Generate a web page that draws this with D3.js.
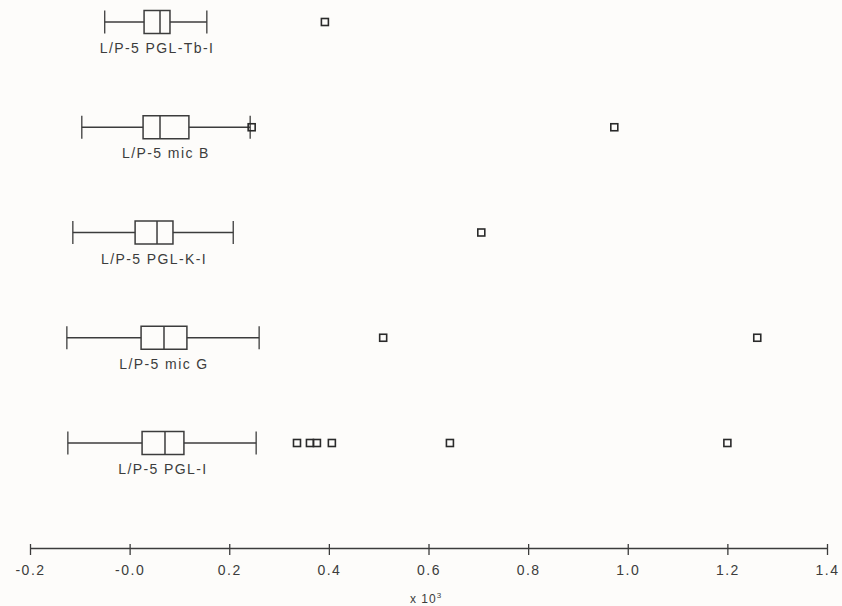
<!DOCTYPE html>
<meta charset="utf-8">
<script src="https://d3js.org/d3.v7.min.js"></script>
<style>
  body { margin: 0; background: #fdfcfa; }
  text { font-family: "Liberation Sans", Arial, sans-serif; fill: #3c3c3c; }
</style>
<div id="chart"></div>
<script>

// box plot statistics, values in units of 10^3
var groups = ["L/P-5 PGL-Tb-I", "L/P-5 mic B", "L/P-5 PGL-K-I", "L/P-5 mic G", "L/P-5 PGL-I"];
var whiskerLow  = [-0.050, -0.096, -0.114, -0.126, -0.124];
var q1          = [ 0.029,  0.027,  0.011,  0.023,  0.025];
var medians     = [ 0.061,  0.061,  0.055,  0.069,  0.071];
var q3          = [ 0.081,  0.119,  0.087,  0.115,  0.109];
var whiskerHigh = [ 0.155,  0.242,  0.208,  0.260,  0.254];
var outliers = [
  [0.392],
  [0.245, 0.973],
  [0.706],
  [0.509, 1.260],
  [0.336, 0.362, 0.376, 0.406, 0.643, 1.200]
];

// axis ticks
var xTicks = [-0.2, 0.0, 0.2, 0.4, 0.6, 0.8, 1.0, 1.2, 1.4];
var xTickLabels = ["-0.2", "-0.0", "0.2", "0.4", "0.6", "0.8", "1.0", "1.2", "1.4"];

var width = 842, height = 606;
var ink = "#3c3c3c";
var boxH = 23;

var svg = d3.select("#chart")
  .append("svg")
    .attr("width", width)
    .attr("height", height);

var x = d3.scaleLinear()
  .domain([-0.2, 1.4])
  .range([30, 827]);

var y = d3.scalePoint()
  .domain(groups)
  .range([22, 443]);

// rows of data for the boxes
var rows = groups.map(function(g, i) {
  return { name: g, lo: whiskerLow[i], q1: q1[i], med: medians[i], q3: q3[i], hi: whiskerHigh[i], out: outliers[i] };
});

var box = svg.selectAll(".box")
  .data(rows)
  .enter()
  .append("g")
    .attr("class", "box")
    .attr("transform", function(d) { return "translate(0," + y(d.name) + ")"; });

// whisker line
box.append("line")
  .attr("x1", function(d) { return x(d.lo); })
  .attr("x2", function(d) { return x(d.hi); })
  .attr("stroke", ink).attr("stroke-width", 1.3);

// whisker caps
box.selectAll(".cap")
  .data(function(d) { return [d.lo, d.hi]; })
  .enter()
  .append("line")
    .attr("x1", function(v) { return x(v); })
    .attr("x2", function(v) { return x(v); })
    .attr("y1", -boxH / 2).attr("y2", boxH / 2)
    .attr("stroke", ink).attr("stroke-width", 1.3);

// the box
box.append("rect")
  .attr("x", function(d) { return x(d.q1); })
  .attr("width", function(d) { return x(d.q3) - x(d.q1); })
  .attr("y", -boxH / 2)
  .attr("height", boxH)
  .attr("fill", "#fdfcfa")
  .attr("stroke", ink).attr("stroke-width", 1.5);

// median
box.append("line")
  .attr("x1", function(d) { return x(d.med); })
  .attr("x2", function(d) { return x(d.med); })
  .attr("y1", -boxH / 2).attr("y2", boxH / 2)
  .attr("stroke", ink).attr("stroke-width", 1.5);

// outliers as small squares
box.selectAll(".out")
  .data(function(d) { return d.out; })
  .enter()
  .append("rect")
    .attr("x", function(v) { return x(v) - 3.5; })
    .attr("y", -3.5)
    .attr("width", 7).attr("height", 7)
    .attr("fill", "none")
    .attr("stroke", "#2a2a2a").attr("stroke-width", 1.6);

// group label under each box
box.append("text")
  .attr("x", function(d) { return (x(d.q1) + x(d.q3)) / 2; })
  .attr("y", 31)
  .attr("text-anchor", "middle")
  .style("font-size", "14px")
  .style("letter-spacing", "1.4px")
  .text(function(d) { return d.name; });

// x axis
var axisY = 548;
var axis = svg.append("g")
  .attr("transform", "translate(0," + axisY + ")")
  .call(d3.axisBottom(x)
    .tickValues(xTicks)
    .tickFormat(function(d, i) { return xTickLabels[i]; })
    .tickSize(7)
    .tickSizeOuter(0));

axis.select(".domain").attr("stroke", ink).attr("stroke-width", 1.3);
axis.selectAll(".tick line").attr("y1", -4).attr("stroke", ink).attr("stroke-width", 1.3);
axis.selectAll(".tick text")
  .attr("y", 27).attr("dy", 0)
  .style("font-size", "14px")
  .style("letter-spacing", "1.5px")
  .style("font-family", "'Liberation Sans', Arial, sans-serif")
  .attr("fill", ink);

// axis unit label
var unit = svg.append("text")
  .attr("x", 410)
  .attr("y", 603)
  .style("font-size", "12px")
  .style("letter-spacing", "1px");
unit.append("tspan").text("x 10");
unit.append("tspan").attr("dy", -5).style("font-size", "8px").text("3");

</script>
